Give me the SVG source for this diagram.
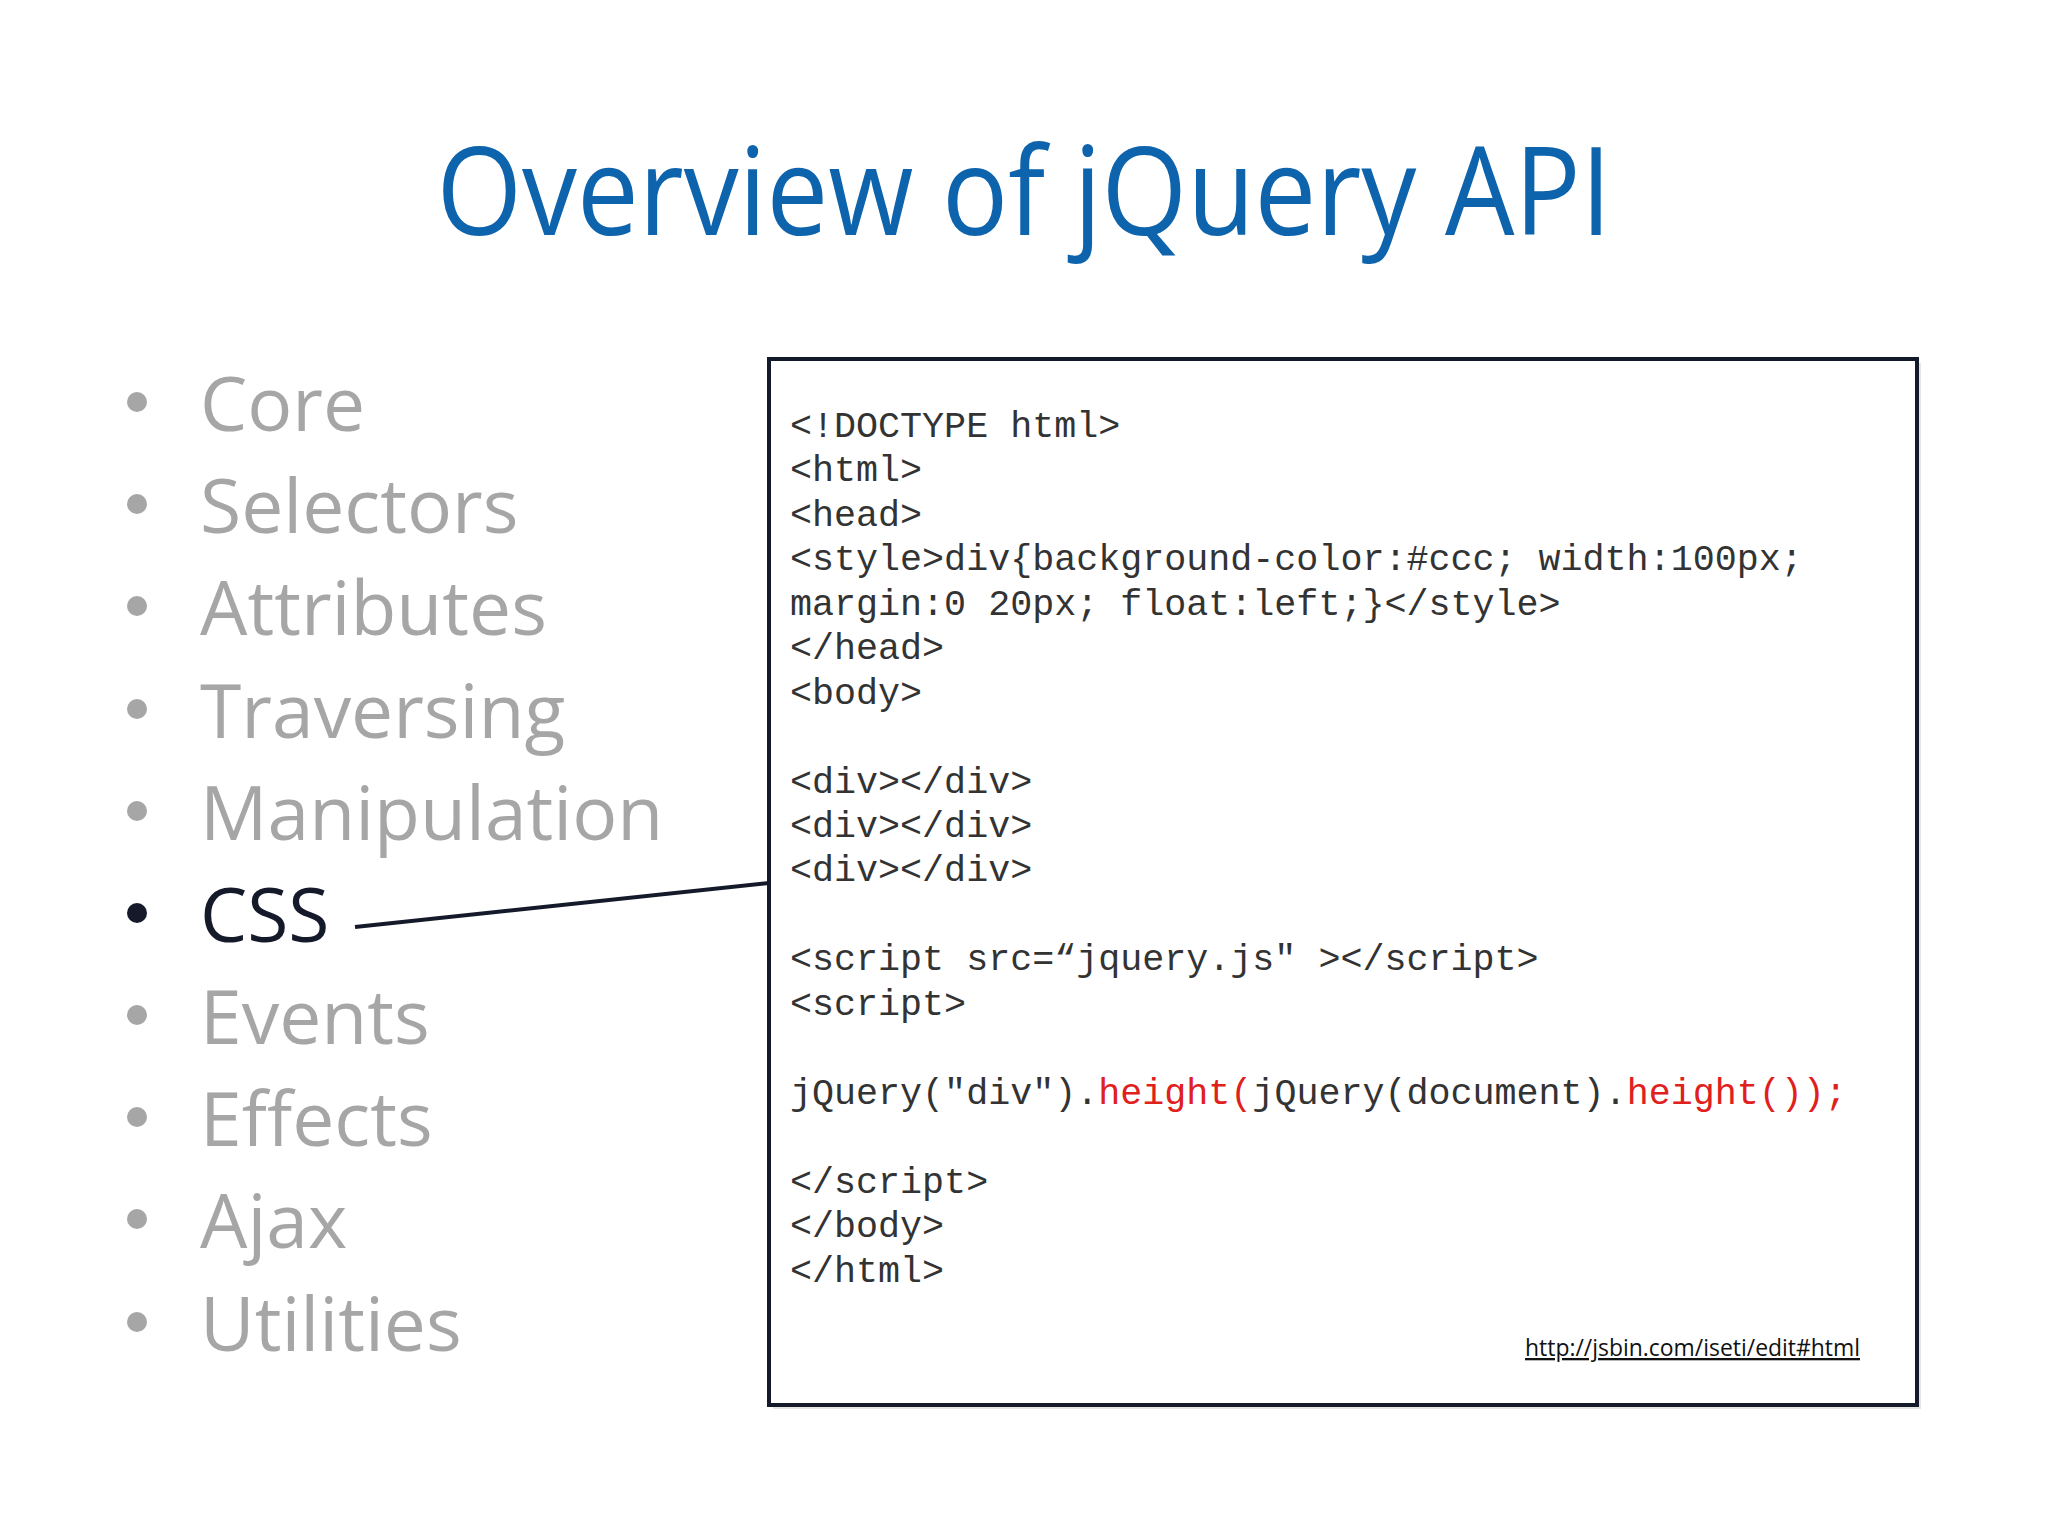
<svg xmlns="http://www.w3.org/2000/svg" width="2048" height="1536" viewBox="0 0 2048 1536">
<style>
.b{font-family:"Open Sans","Liberation Sans",sans-serif;font-size:75px;fill:#a6a6a6}
.c{font-family:"Liberation Mono","Courier New",monospace;font-size:36.7px;fill:#333}
.r{fill:#e0201c}
.dot{fill:#a6a6a6}
</style>
<rect width="2048" height="1536" fill="#fff"/>
<text x="1024" y="235" text-anchor="middle" font-family="Open Sans, Liberation Sans, sans-serif" font-size="122" fill="#0e63ad" textLength="1175" lengthAdjust="spacingAndGlyphs">Overview of jQuery API</text>
<g id="bullets">
<circle class="dot" cx="137" cy="402" r="10"/><text class="b" x="200" y="431">Core</text>
<circle class="dot" cx="137" cy="504" r="10"/><text class="b" x="200" y="533">Selectors</text>
<circle class="dot" cx="137" cy="606" r="10"/><text class="b" x="200" y="635">Attributes</text>
<circle class="dot" cx="137" cy="709" r="10"/><text class="b" x="200" y="738">Traversing</text>
<circle class="dot" cx="137" cy="811" r="10"/><text class="b" x="200" y="840">Manipulation</text>
<circle cx="137" cy="913" r="10" fill="#141a2a"/><text class="b" x="200" y="942" style="fill:#141a2a">CSS</text>
<circle class="dot" cx="137" cy="1015" r="10"/><text class="b" x="200" y="1044">Events</text>
<circle class="dot" cx="137" cy="1117" r="10"/><text class="b" x="200" y="1146">Effects</text>
<circle class="dot" cx="137" cy="1219" r="10"/><text class="b" x="200" y="1248">Ajax</text>
<circle class="dot" cx="137" cy="1322" r="10"/><text class="b" x="200" y="1351">Utilities</text>
</g>
<g id="connectors"><line x1="355" y1="927" x2="769" y2="883" stroke="#141a2a" stroke-width="4"/></g>
<g id="codebox">
<rect x="773" y="363" width="1148" height="1046" fill="#ccc" opacity="0.5"/>
<rect x="769" y="359" width="1148" height="1046" fill="#fff" stroke="#141a2a" stroke-width="4"/>
<text class="c" x="790" y="437">&lt;!DOCTYPE html&gt;</text>
<text class="c" x="790" y="481">&lt;html&gt;</text>
<text class="c" x="790" y="526">&lt;head&gt;</text>
<text class="c" x="790" y="570">&lt;style&gt;div{background-color:#ccc; width:100px;</text>
<text class="c" x="790" y="615">margin:0 20px; float:left;}&lt;/style&gt;</text>
<text class="c" x="790" y="659">&lt;/head&gt;</text>
<text class="c" x="790" y="704">&lt;body&gt;</text>
<text class="c" x="790" y="793">&lt;div&gt;&lt;/div&gt;</text>
<text class="c" x="790" y="837">&lt;div&gt;&lt;/div&gt;</text>
<text class="c" x="790" y="881">&lt;div&gt;&lt;/div&gt;</text>
<text class="c" x="790" y="970">&lt;script src=“jquery.js" &gt;&lt;/script&gt;</text>
<text class="c" x="790" y="1015">&lt;script&gt;</text>
<text class="c" x="790" y="1104">jQuery("div").<tspan class="r">height(</tspan>jQuery(document).<tspan class="r">height());</tspan></text>
<text class="c" x="790" y="1193">&lt;/script&gt;</text>
<text class="c" x="790" y="1237">&lt;/body&gt;</text>
<text class="c" x="790" y="1282">&lt;/html&gt;</text>
<text x="1860" y="1356" text-anchor="end" font-family="Open Sans, Liberation Sans, sans-serif" font-size="23" fill="#111" text-decoration="underline" textLength="335" lengthAdjust="spacingAndGlyphs">http://jsbin.com/iseti/edit#html</text>
</g>
</svg>
